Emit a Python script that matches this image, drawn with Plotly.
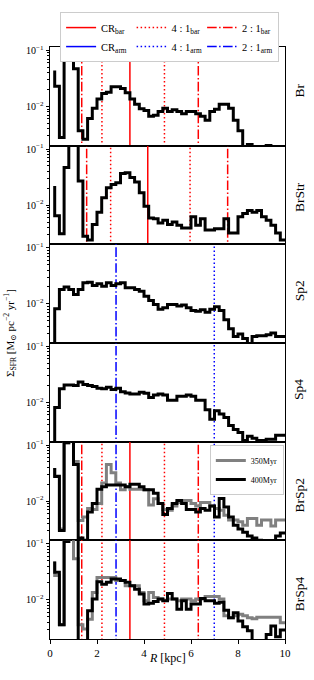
import math
import plotly.graph_objects as go
from plotly.subplots import make_subplots

# ---------------- data ----------------
# step edges (kpc); value i applies to the bin ending at R[i] (steps-pre)
R = [0.2, 0.4, 0.6, 0.8, 1.0, 1.2, 1.4, 1.6, 1.8, 2.0,
     2.2, 2.4, 2.6, 2.8, 3.0, 3.2, 3.4, 3.6, 3.8, 4.0,
     4.2, 4.4, 4.6, 4.8, 5.0, 5.2, 5.4, 5.6, 5.8, 6.0,
     6.2, 6.4, 6.6, 6.8, 7.0, 7.2, 7.4, 7.6, 7.8, 8.0,
     8.2, 8.4, 8.6, 8.8, 9.0, 9.2, 9.4, 9.6, 9.8, 10.0]

Br = [0.044, 0.023, 0.0028, 0.11, 0.2, 0.047, 0.0037, 0.0026, 0.0061, 0.0093,
      0.0136, 0.017, 0.018, 0.0224, 0.0224, 0.021, 0.0176, 0.0136, 0.011, 0.0091,
      0.0085, 0.0067, 0.007, 0.0081, 0.0093, 0.0081, 0.0087, 0.0081, 0.0074, 0.0081,
      0.0081, 0.0074, 0.0067, 0.0057, 0.0081, 0.0089, 0.011, 0.011, 0.0093, 0.0057,
      0.0037, 0.0015, 0.0021, 0.0015, 0.0015, 0.0015, 0.00202, 0.0015, 0.0015, 0.0015]

BrStr = [0.022, 0.0065, 0.0031, 0.047, 0.2, 0.2, 0.027, 0.0028, 0.0024, 0.0045,
         0.0075, 0.0135, 0.0205, 0.0234, 0.025, 0.0366, 0.038, 0.031, 0.026, 0.0167,
         0.0096, 0.0059, 0.0057, 0.0048, 0.0054, 0.0045, 0.005, 0.0044, 0.0039, 0.0039,
         0.0062, 0.0044, 0.0057, 0.0036, 0.0036, 0.0038, 0.0038, 0.0057, 0.0032, 0.0032,
         0.0062, 0.0071, 0.008, 0.0075, 0.008, 0.0062, 0.0054, 0.0044, 0.0032, 0.0024]

Sp2 = [0.001, 0.0082, 0.018, 0.020, 0.018, 0.0147, 0.018, 0.0237, 0.0243, 0.0213,
       0.0228, 0.0206, 0.0237, 0.0213, 0.0228, 0.0237, 0.0193, 0.0193, 0.018, 0.0168,
       0.0137, 0.0114, 0.0097, 0.0080, 0.0085, 0.0097, 0.0097, 0.0091, 0.0095, 0.0085,
       0.0076, 0.0074, 0.0078, 0.0071, 0.0080, 0.0089, 0.0076, 0.0052, 0.0036, 0.0026,
       0.0029, 0.0024, 0.0019, 0.0026, 0.0027, 0.0027, 0.0028, 0.003, 0.0026, 0.0026]

Sp4 = [0.001, 0.0081, 0.0175, 0.0206, 0.0206, 0.020, 0.0231, 0.021, 0.020, 0.0192,
       0.018, 0.0175, 0.0187, 0.017, 0.018, 0.0156, 0.0148, 0.0141, 0.0141, 0.0152,
       0.0146, 0.0123, 0.0136, 0.0141, 0.0136, 0.011, 0.011, 0.0129, 0.0129, 0.0136,
       0.0129, 0.011, 0.011, 0.0074, 0.005, 0.0071, 0.0062, 0.0054, 0.0039, 0.0033,
       0.0029, 0.0021, 0.0025, 0.0023, 0.0021, 0.0021, 0.0022, 0.0022, 0.0026, 0.0026]

BrSp2_350 = [0.039, 0.028, 0.0032, 0.11, 0.2, 0.051, 0.0045, 0.0052, 0.0074, 0.0071,
             0.0091, 0.021, 0.045, 0.032, 0.021, 0.016, 0.018, 0.0163, 0.0163, 0.0163,
             0.016, 0.0085, 0.011, 0.0091, 0.0071, 0.0069, 0.0082, 0.0095, 0.0103, 0.0103,
             0.0091, 0.0082, 0.0095, 0.0095, 0.0082, 0.0074, 0.0069, 0.0056, 0.0046, 0.0046,
             0.0043, 0.0037, 0.0049, 0.0049, 0.0037, 0.0046, 0.0046, 0.0036, 0.0046, 0.0046]

BrSp2_400 = [0.039, 0.0275, 0.003, 0.11, 0.2, 0.045, 0.0022, 0.0020, 0.0064, 0.0091,
             0.0163, 0.018, 0.0195, 0.0195, 0.0195, 0.0195, 0.018, 0.02, 0.02, 0.018,
             0.016, 0.016, 0.0138, 0.0091, 0.0058, 0.0074, 0.0091, 0.0103, 0.0091, 0.0071,
             0.0071, 0.0064, 0.0074, 0.0069, 0.0082, 0.0052, 0.0112, 0.0079, 0.0052, 0.0037,
             0.0032, 0.0028, 0.0024, 0.0022, 0.0020, 0.0019, 0.0019, 0.0019, 0.0024, 0.0027]

BrSp4_350 = [0.048, 0.027, 0.0036, 0.11, 0.2, 0.054, 0.0036, 0.003, 0.0045, 0.0135,
             0.025, 0.025, 0.025, 0.025, 0.022, 0.022, 0.0178, 0.0178, 0.0178, 0.0135,
             0.0096, 0.0135, 0.011, 0.0103, 0.0098, 0.0103, 0.0103, 0.0096, 0.0103, 0.0103,
             0.0096, 0.0103, 0.0103, 0.0115, 0.0115, 0.0115, 0.0103, 0.0052, 0.0048, 0.0052,
             0.0055, 0.0052, 0.0048, 0.0046, 0.0049, 0.0049, 0.0049, 0.0049, 0.0049, 0.0039]

BrSp4_400 = [0.048, 0.031, 0.0036, 0.11, 0.2, 0.2, 0.0015, 0.0015, 0.0064, 0.0103,
             0.021, 0.019, 0.0205, 0.0235, 0.0235, 0.022, 0.0205, 0.0178, 0.0155, 0.0127,
             0.0084, 0.0087, 0.0093, 0.0103, 0.0096, 0.013, 0.0103, 0.0068, 0.0096, 0.0068,
             0.0084, 0.0084, 0.0106, 0.0096, 0.0096, 0.0087, 0.009, 0.0065, 0.0048, 0.0059,
             0.0042, 0.0033, 0.0028, 0.0015, 0.0015, 0.0015, 0.0024, 0.0034, 0.0022, 0.0029]

panel_names = ["Br", "BrStr", "Sp2", "Sp4", "BrSp2", "BrSp4"]
panel_main = [Br, BrStr, Sp2, Sp4, BrSp2_400, BrSp4_400]
panel_early = [None, None, None, None, BrSp2_350, BrSp4_350]

# resonance radii (kpc) per panel
CR_bar = [[3.40], [4.16], [], [], [3.40], [3.40]]
UHR_bar = [[2.21, 4.87], [2.58, 5.96], [], [], [2.21, 4.87], [2.21, 4.87]]   # 4:1 bar
LR_bar = [[1.35, 6.31], [1.56, 7.56], [], [], [1.35, 6.31], [1.35, 6.31]]    # 2:1 bar
CR_arm = [[], [], [], [], [], []]
UHR_arm = [[], [], [6.99], [6.99], [6.99], [6.99]]                           # 4:1 arm
LR_arm = [[], [], [2.81], [2.81], [2.81], [2.81]]                            # 2:1 arm

x_ticks = [0, 2, 4, 6, 8, 10]
y_ticks = [0.01, 0.1]
y_ticktext = ["10<sup>\u22122</sup>", "10<sup>\u22121</sup>"]
y_minor = [0.003, 0.004, 0.005, 0.006, 0.007, 0.008, 0.009,
           0.02, 0.03, 0.04, 0.05, 0.06, 0.07, 0.08, 0.09]

# ---------------- styles ----------------
RED = "#ff0000"
BLUE = "#0000ff"
GRAY = "#808080"
DOT = "1.5px,2.5px"
DASHDOT = "9.6px,2.4px,1.5px,2.4px"
SERIF = "Liberation Serif, DejaVu Serif, serif"
YMIN, YMAX = 0.002, 0.115

fig = make_subplots(rows=6, cols=1, shared_xaxes=True, vertical_spacing=0)

kinds = [
    ("CR<sub>bar</sub>", RED, "solid", CR_bar),
    ("4 : 1<sub>bar</sub>", RED, DOT, UHR_bar),
    ("2 : 1<sub>bar</sub>", RED, DASHDOT, LR_bar),
    ("CR<sub>arm</sub>", BLUE, "solid", CR_arm),
    ("4 : 1<sub>arm</sub>", BLUE, DOT, UHR_arm),
    ("2 : 1<sub>arm</sub>", BLUE, DASHDOT, LR_arm),
]

# legend proxies (top legend)
for name, col, dash, _ in kinds:
    fig.add_trace(go.Scatter(x=[None], y=[None], mode="lines", name=name,
                             line=dict(color=col, width=1.5, dash=dash),
                             legend="legend", showlegend=True), row=1, col=1)

for i in range(6):
    row = i + 1
    # vertical resonance lines
    for name, col, dash, pos in kinds:
        xs, ys = [], []
        for r in pos[i]:
            xs += [r, r, None]
            ys += [1e-4, 1.0, None]
        if xs:
            fig.add_trace(go.Scatter(x=xs, y=ys, mode="lines", showlegend=False,
                                     line=dict(color=col, width=1.5, dash=dash),
                                     hoverinfo="skip"), row=row, col=1)
    # histograms
    if panel_early[i] is not None:
        fig.add_trace(go.Scatter(x=R, y=panel_early[i], mode="lines", name="350Myr",
                                 line=dict(color=GRAY, width=3, shape="vh"),
                                 legend="legend2", showlegend=(i == 4)), row=row, col=1)
        fig.add_trace(go.Scatter(x=R, y=panel_main[i], mode="lines", name="400Myr",
                                 line=dict(color="black", width=3, shape="vh"),
                                 legend="legend2", showlegend=(i == 4)), row=row, col=1)
    else:
        fig.add_trace(go.Scatter(x=R, y=panel_main[i], mode="lines", showlegend=False,
                                 line=dict(color="black", width=3, shape="vh")),
                      row=row, col=1)

    fig.update_yaxes(type="log", range=[math.log10(YMIN), math.log10(YMAX)],
                     tickmode="array", tickvals=y_ticks, ticktext=y_ticktext,
                     ticks="outside", ticklen=3.5, tickwidth=0.8, tickcolor="black",
                     minor=dict(tickmode="array", tickvals=y_minor, ticks="outside",
                                ticklen=2, tickwidth=0.6, tickcolor="black"),
                     showline=True, linecolor="black", linewidth=1, mirror=True,
                     showgrid=False, zeroline=False, automargin=False,
                     tickfont=dict(family=SERIF, size=10, color="black"),
                     row=row, col=1)
    fig.update_xaxes(range=[0, 10], showline=True, linecolor="black", linewidth=1,
                     mirror=True, showgrid=False, zeroline=False, automargin=False,
                     tickmode="array", tickvals=x_ticks,
                     ticks="outside" if row == 6 else "", ticklen=3.5, tickwidth=0.8,
                     tickcolor="black", showticklabels=(row == 6),
                     tickfont=dict(family=SERIF, size=11, color="black"),
                     row=row, col=1)

annotations = []
for i, nm in enumerate(panel_names):
    yref = "y domain" if i == 0 else f"y{i + 1} domain"
    annotations.append(dict(text=nm, xref="paper", x=1.06, xanchor="center",
                            yref=yref, y=0.652, yanchor="top", textangle=-90,
                            showarrow=False,
                            font=dict(family=SERIF, size=13.5, color="black")))
annotations.append(dict(text="\u03a3<sub>SFR</sub> [M<sub>\u2299</sub> pc<sup>\u22122</sup> yr<sup>\u22121</sup>]",
                        xref="paper", x=-0.17, xanchor="center",
                        yref="paper", y=0.517, yanchor="middle", textangle=-90,
                        showarrow=False, font=dict(family=SERIF, size=11, color="black")))
annotations.append(dict(text="<i>R</i> [kpc]", xref="paper", x=0.5, xanchor="center",
                        yref="paper", y=-0.032, yanchor="middle", showarrow=False,
                        font=dict(family=SERIF, size=12, color="black")))

fig.update_layout(
    width=314, height=680,
    margin=dict(l=50, r=29, t=47, b=41, autoexpand=False),
    plot_bgcolor="white", paper_bgcolor="white",
    annotations=annotations,
    legend=dict(orientation="h", x=0.043, xanchor="left", y=1.059, yanchor="top",
                entrywidth=0.3, entrywidthmode="fraction", itemwidth=30,
                bgcolor="white", bordercolor="#cccccc", borderwidth=1,
                font=dict(family=SERIF, size=10.5, color="black"),
                traceorder="normal"),
    legend2=dict(orientation="v", x=0.995, xanchor="right", y=0.3277, yanchor="top",
                 itemwidth=30, bgcolor="white", bordercolor="#cccccc", borderwidth=1,
                 font=dict(family=SERIF, size=8, color="black"),
                 tracegroupgap=0),
    showlegend=True,
)

fig.write_html("out.html", config={"displayModeBar": False},
               post_script="document.body.style.margin='0';document.body.style.padding='0';")
